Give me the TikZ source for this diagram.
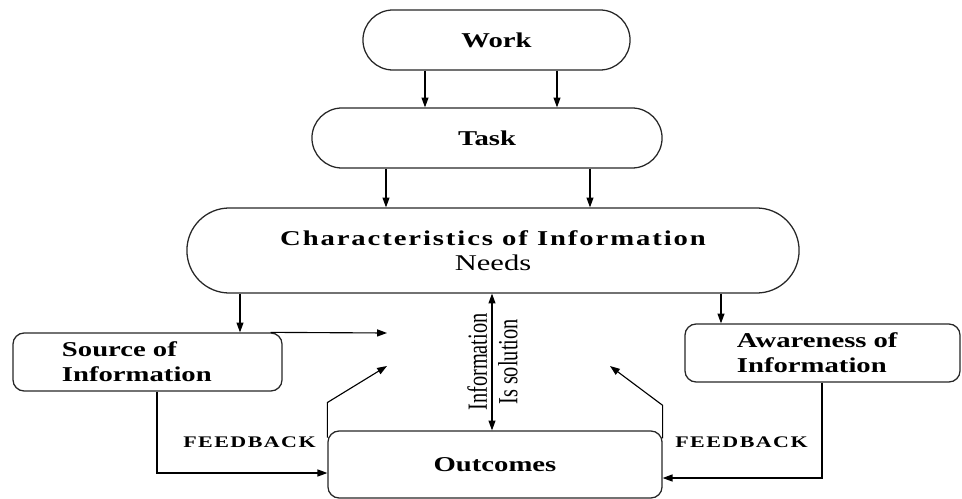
\documentclass[tikz,border=0pt]{standalone}
\usepackage{fontspec}
\newfontfamily\boxfont[FakeStretch=1.36]{Liberation Serif}
\newfontfamily\plainfont{Liberation Serif}
\usetikzlibrary{shapes.geometric, arrows.meta, calc, positioning}
\tikzstyle{pill} = [rectangle, draw=black!85, line width=0.9pt, text centered, font=\boxfont\fontsize{15}{18}\selectfont\bfseries]
\tikzstyle{card} = [rectangle, rounded corners=0.28cm, draw=black!85, line width=0.9pt, minimum height=1.45cm, text width=4.275cm, align=left, font=\boxfont\fontsize{15}{18}\selectfont\bfseries]
\tikzstyle{fbtext} = [font=\boxfont\fontsize{11.5}{13}\selectfont\bfseries\addfontfeature{LetterSpace=9}]
\tikzstyle{vtext} = [rotate=90, font=\plainfont\fontsize{14.5}{16}\selectfont]
\tikzstyle{arrow} = [line width=0.8pt,->,>={Triangle[length=7pt,width=5pt]}]

\begin{document}
\begin{tikzpicture}[x=0.025cm, y=-0.025cm]
		\useasboundingbox (0,0) rectangle (962,499);
		\node (Work) [pill, rounded corners=0.75cm, minimum width=6.675cm, minimum height=1.5cm] at (496.5,40) {Work};
		\node (Task) [pill, rounded corners=0.75cm, minimum width=8.75cm, minimum height=1.5cm] at (487,138) {Task};
		\node (Needs) [pill, rounded corners=1.06cm, minimum width=15.3cm, minimum height=2.125cm, align=center] at (493,250.5) {{\addfontfeature{LetterSpace=9}Characteristics of Information}\\ {\mdseries\fontsize{16}{18}\selectfont Needs}};
		\node (Source) [card, minimum width=6.725cm] at (147.5,362) {Source of\\ Information};
		\node (Awareness) [card, minimum width=6.875cm] at (822.5,353) {Awareness of\\ Information};
		\node (Outcomes) [pill, rounded corners=0.28cm, minimum width=8.35cm, minimum height=1.675cm] at (495,464.5) {Outcomes};
		\node (FeedbackLeft) [fbtext] at (249.5,442) {FEEDBACK};
		\node (FeedbackRight) [fbtext] at (741.5,442) {FEEDBACK};
		
		\coordinate (SourceTip) at (387,333);
		\coordinate (LeftTip) at (387,366);
		\coordinate (RightTip) at (610,366);
		
		\draw [arrow] (Work.south -| 425,0) -- (Task.north -| 425,0);
		\draw [arrow] (Work.south -| 557,0) -- (Task.north -| 557,0);
		\draw [arrow] (Task.south -| 386,0) -- (Needs.north -| 386,0);
		\draw [arrow] (Task.south -| 590,0) -- (Needs.north -| 590,0);
		\draw [arrow] (Needs.south -| 240,0) -- (Source.north -| 240,0);
		\draw [arrow] (Needs.south -| 721,0) -- (Awareness.north -| 721,0);
		\draw [arrow] ([xshift=-0.3cm]Source.north east) -- (SourceTip);
		\draw [arrow] (Source.south -| 157,0) |- ([yshift=-0.2125cm]Outcomes.west);
		\draw [arrow] (Awareness.south -| 822,0) |- ([yshift=-0.3375cm]Outcomes.east);
		\draw [arrow] ([yshift=-0.18cm]Outcomes.north west) -- ++(0,-35) -- (LeftTip);
		\draw [arrow] ([yshift=-0.2cm]Outcomes.north east) -- ++(0,-33) -- (RightTip);
		\draw [arrow, <->] (Needs.south -| 492,0) -- node[vtext, anchor=south, inner sep=3pt]{\scalebox{1}[1.36]{Information}} node[vtext, anchor=north, inner sep=4pt]{\scalebox{1}[1.36]{Is solution}} (Outcomes.north -| 492,0);
\end{tikzpicture}
\end{document}
